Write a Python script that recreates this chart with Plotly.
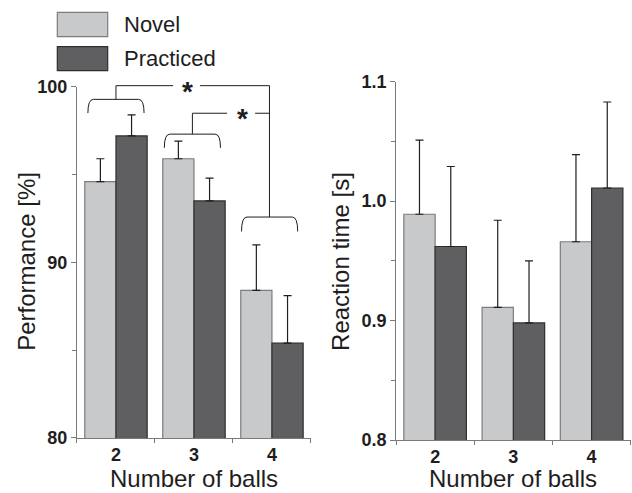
import plotly.graph_objects as go

# ---- data -------------------------------------------------------------
balls = ["2", "3", "4"]
perf_novel = [94.6, 95.9, 88.4]
perf_novel_err = [1.3, 1.0, 2.6]
perf_prac = [97.2, 93.5, 85.4]
perf_prac_err = [1.2, 1.3, 2.7]
rt_novel = [0.989, 0.911, 0.966]
rt_novel_err = [0.062, 0.073, 0.073]
rt_prac = [0.962, 0.898, 1.011]
rt_prac_err = [0.067, 0.052, 0.072]
perf_ticks = [80, 90, 100]
rt_ticks = [0.8, 0.9, 1.0, 1.1]
series_names = ["Novel", "Practiced"]
x_title = "Number of balls"
y_titles = ["Performance [%]", "Reaction time [s]"]

# ---- style ------------------------------------------------------------
FONT = "Liberation Sans, Arial, sans-serif"
NOVEL_FILL, NOVEL_EDGE = "#c8c9cb", "#7c7c7e"
PRAC_FILL, PRAC_EDGE = "#5f5f61", "#2e2e2e"
AXIS_COL = "#7a7a7a"
INK = "#1e1e1e"

idx = list(range(len(balls)))

L_DOM_X, L_DOM_Y = [0.1218, 0.492], [0.1116, 0.8241]
R_DOM_X, R_DOM_Y = [0.6266, 0.998], [0.1075, 0.8343]
L_RANGE, R_RANGE = [80, 100], [0.8, 1.1]

fig = go.Figure()


def err(vals):
    return dict(type="data", symmetric=False, array=vals, arrayminus=[0] * len(vals),
                color=INK, thickness=1.2, width=4)


for xa, ya, nv, ne, pv, pe in [("x", "y", perf_novel, perf_novel_err, perf_prac, perf_prac_err),
                                ("x2", "y2", rt_novel, rt_novel_err, rt_prac, rt_prac_err)]:
    fig.add_trace(go.Bar(x=idx, y=nv, name=series_names[0], xaxis=xa, yaxis=ya,
                         marker=dict(color=NOVEL_FILL, line=dict(color=NOVEL_EDGE, width=1.2)),
                         error_y=err(ne), showlegend=False))
    fig.add_trace(go.Bar(x=idx, y=pv, name=series_names[1], xaxis=xa, yaxis=ya,
                         marker=dict(color=PRAC_FILL, line=dict(color=PRAC_EDGE, width=1.2)),
                         error_y=err(pe), showlegend=False))


def xaxis(dom, anchor):
    return dict(domain=dom, anchor=anchor, range=[-0.5, len(balls) - 0.5], automargin=False,
                tickmode="array", tickvals=idx, ticktext=balls, ticks="",
                tickfont=dict(family=FONT, size=18, color=INK, weight="bold"),
                ticklabelstandoff=0,
                minor=dict(tickmode="array", tickvals=[i - 0.5 for i in range(len(balls) + 1)],
                           ticks="outside", ticklen=4, tickcolor=AXIS_COL, tickwidth=1),
                showline=True, linecolor=AXIS_COL, linewidth=1,
                showgrid=False, zeroline=False, fixedrange=True)


def yaxis(dom, anchor, rng, ticks, dtick_minor, fmt):
    return dict(domain=dom, anchor=anchor, range=rng, automargin=False,
                tickmode="array", tickvals=ticks, ticks="outside", ticklen=5,
                tickcolor=AXIS_COL, tickwidth=1, tickformat=fmt,
                tickfont=dict(family=FONT, size=18, color=INK, weight="bold"),
                minor=dict(dtick=dtick_minor, tick0=rng[0], ticks="outside", ticklen=4,
                           tickcolor=AXIS_COL, tickwidth=1, showgrid=False),
                showline=True, linecolor=AXIS_COL, linewidth=1,
                showgrid=False, zeroline=False, fixedrange=True)


fig.update_layout(
    width=632, height=493, margin=dict(l=0, r=0, t=0, b=0, autoexpand=False),
    paper_bgcolor="white", plot_bgcolor="white",
    barmode="group", bargap=0.2, bargroupgap=0,
    xaxis=xaxis(L_DOM_X, "y"),
    yaxis=yaxis(L_DOM_Y, "x", L_RANGE, perf_ticks, 5, "d"),
    xaxis2=xaxis(R_DOM_X, "y2"),
    yaxis2=yaxis(R_DOM_Y, "x2", R_RANGE, rt_ticks, 0.05, ".1f"),
    showlegend=False,
)

# ---- axis titles -------------------------------------------------------
title_font = dict(family=FONT, size=24, color=INK)
for dom in (L_DOM_X, R_DOM_X):
    fig.add_annotation(x=(dom[0] + dom[1]) / 2, y=0.0, xref="paper", yref="paper",
                       text=x_title, showarrow=False, font=title_font,
                       xanchor="center", yanchor="bottom", borderpad=0)
for xc, text in zip((0.042, 0.539), y_titles):
    fig.add_annotation(x=xc, y=0.47, xref="paper", yref="paper", text=text,
                       showarrow=False, font=title_font, textangle=-90,
                       xanchor="center", yanchor="middle")


# ---- significance brackets on the performance panel -------------------
def py(v):
    """performance value -> paper y"""
    return L_DOM_Y[0] + (v - L_RANGE[0]) / (L_RANGE[1] - L_RANGE[0]) * (L_DOM_Y[1] - L_DOM_Y[0])


def brace(xc, half, top, bot):
    x0, x1 = xc - half, xc + half
    r = 0.07
    d = (f"M {x0},{py(bot)} Q {x0},{py(top)} {x0 + r},{py(top)} "
         f"L {x1 - r},{py(top)} Q {x1},{py(top)} {x1},{py(bot)}")
    fig.add_shape(type="path", path=d, xref="x", yref="paper",
                  line=dict(color=INK, width=1))


def seg(xs, ys):
    d = "M " + " L ".join(f"{x},{py(y)}" for x, y in zip(xs, ys))
    fig.add_shape(type="path", path=d, xref="x", yref="paper",
                  line=dict(color=INK, width=1))


brace(0.0, 0.36, 99.28, 98.5)
brace(0.98, 0.36, 97.30, 96.52)
brace(1.97, 0.36, 92.58, 91.76)

# 2 balls vs 4 balls
seg([0.0, 0.0, 0.732], [99.28, 100.06, 100.06])
seg([1.078, 1.968, 1.968], [100.06, 100.06, 92.58])
# 3 balls vs 4 balls
seg([0.98, 0.98, 1.425], [97.30, 98.49, 98.49])
seg([1.784, 1.968], [98.49, 98.49])

for xs, ys in [(0.911, 100.06), (1.626, 98.49)]:
    fig.add_annotation(x=xs, y=py(ys), xref="x", yref="paper", text="*", showarrow=False,
                       font=dict(family=FONT, size=28, color=INK, weight="bold"), yshift=12)

# ---- legend ------------------------------------------------------------
for (y0, y1, yc), fill, edge, name in [((0.9256, 0.975, 0.9503), NOVEL_FILL, NOVEL_EDGE, series_names[0]),
                                        ((0.8566, 0.9053, 0.881), PRAC_FILL, PRAC_EDGE, series_names[1])]:
    fig.add_shape(type="rect", xref="paper", yref="paper", x0=0.0907, x1=0.1704, y0=y0, y1=y1,
                  fillcolor=fill, line=dict(color=edge, width=1.2))
    fig.add_annotation(x=0.1926, y=yc, xref="paper", yref="paper", text=name, showarrow=False,
                       xanchor="left", yanchor="middle",
                       font=dict(family=FONT, size=22, color=INK))

fig.write_html("out.html")
